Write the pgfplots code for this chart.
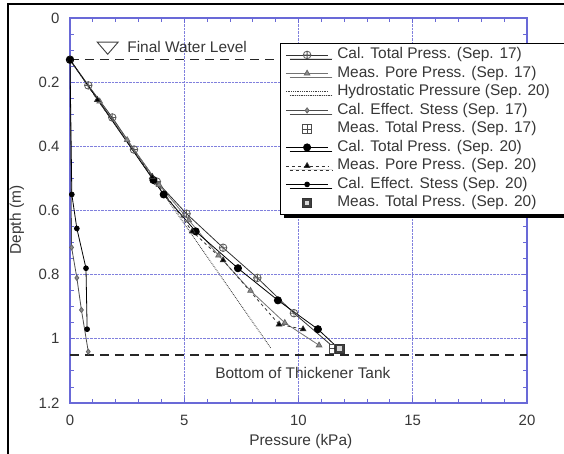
\documentclass[border=0pt]{standalone}
\usepackage{fontspec}
\setmainfont{Liberation Sans}
\usepackage{pgfplots}
\pgfplotsset{compat=1.18}
\usetikzlibrary{plotmarks,shadows}

\definecolor{gridblue}{RGB}{105,105,215}
\definecolor{txt}{RGB}{55,55,55}

% gap between a legend sample and its text
\newcommand{\lgap}{\hspace*{7bp}}

% square with a cross inside
\pgfdeclareplotmark{boxplus}{%
  \pgfpathrectangle{\pgfpoint{-\pgfplotmarksize}{-\pgfplotmarksize}}{\pgfpoint{2\pgfplotmarksize}{2\pgfplotmarksize}}%
  \pgfusepathqfillstroke
  \pgfpathmoveto{\pgfpoint{-\pgfplotmarksize}{0pt}}\pgfpathlineto{\pgfpoint{\pgfplotmarksize}{0pt}}%
  \pgfpathmoveto{\pgfpoint{0pt}{-\pgfplotmarksize}}\pgfpathlineto{\pgfpoint{0pt}{\pgfplotmarksize}}%
  \pgfusepathqstroke}
% dark square with a light core
\pgfdeclareplotmark{boxdot}{%
  \pgfpathrectangle{\pgfpoint{-\pgfplotmarksize}{-\pgfplotmarksize}}{\pgfpoint{2\pgfplotmarksize}{2\pgfplotmarksize}}%
  \pgfusepathqfillstroke
  \pgfsetfillcolor{white!85!black}%
  \pgfpathrectangle{\pgfpoint{-0.5\pgfplotmarksize}{-0.5\pgfplotmarksize}}{\pgfpoint{\pgfplotmarksize}{\pgfplotmarksize}}%
  \pgfusepathqfill}

\pgfplotstableread{
p d
0    0.13
0.8  0.21
1.85 0.31
2.8  0.41
3.8  0.51
5.1  0.61
6.7  0.716
8.2  0.81
9.8  0.92
11.6 1.03
}\caltotA
\pgfplotstableread{
p d
0    0.13
1.3  0.26
2.5  0.38
3.9  0.52
5.2  0.63
6.5  0.74
7.9  0.85
9.4  0.95
10.9 1.02
}\measporeA
\pgfplotstableread{
p d
0   0.13
8.8 1.03
}\hydro
\pgfplotstableread{
p d
0    0.13
0.07 0.715
0.3  0.81
0.5  0.91
0.8  1.04
}\caleffA
\pgfplotstableread{
p d
11.55 1.03
}\meastotA
\pgfplotstableread{
p d
0     0.13
3.65  0.505
4.1   0.55
5.5   0.665
7.35  0.78
9.1   0.88
10.85 0.97
11.75 1.03
}\caltotB
\pgfplotstableread{
p d
0    0.13
1.2  0.255
3.6  0.495
5.35 0.665
6.7  0.755
9.15 0.955
10.2 0.97
}\measporeB
\pgfplotstableread{
p d
0    0.13
0.08 0.55
0.3  0.656
0.7  0.78
0.75 0.97
}\caleffB
\pgfplotstableread{
p d
11.8 1.03
}\meastotB

\begin{document}
\begin{tikzpicture}[font=\fontsize{15.5}{18}\selectfont, text=txt]
\useasboundingbox (-70bp,-51bp) rectangle (494bp,403bp);
\draw[black, line width=1.2bp] (-62bp,-60bp) -- (-62bp,399bp) -- (510bp,399bp);
\begin{axis}[
  at={(0,0)}, anchor=south west,
  scale only axis, width=457bp, height=385bp,
  xmin=0, xmax=20, ymin=0, ymax=1.2, y dir=reverse,
  xtick={0,5,10,15,20}, ytick={0,0.2,0.4,0.6,0.8,1,1.2},
  minor x tick num=4, minor y tick num=3,
  grid=major, major grid style={gridblue!85, densely dotted, line width=0.9bp},
  axis line style={gridblue, line width=1.3bp},
  tick style={gridblue, line width=0.9bp},
  tick align=inside, major tick length=5bp, minor tick length=4bp,
  /pgf/number format/assume math mode=true,
  ticklabel style={font=\fontsize{15}{17}\selectfont, text=txt},
  xticklabel style={yshift=-9bp},
  yticklabel style={xshift=-7bp},
  xlabel={Pressure (kPa)}, ylabel={Depth (m)},
  xlabel style={at={(axis description cs:0.505,0)}, anchor=center, yshift=-38bp},
  ylabel style={at={(axis description cs:-0.116,0.475)}, anchor=center},
  legend style={at={(0.4595,0.935)}, anchor=north west, draw=black, line width=0.8bp,
    fill=white, drop shadow={shadow xshift=4bp, shadow yshift=-4bp, fill=black, opacity=1},
    font=\fontsize{15.5}{18}\selectfont, text=txt, inner xsep=5bp, inner ysep=3bp,
    row sep=1.5bp,
    nodes={inner sep=1.5bp, text height=11bp, text depth=3bp}},
  legend cell align=left,
  legend image code/.code={%
    \draw[mark repeat=2,mark phase=2,#1] plot coordinates {(0cm,0cm) (0.75cm,0cm) (1.5cm,0cm)};},
  every axis plot/.append style={line width=0.8bp},
]
% water level and tank bottom
\addplot[forget plot, black!85, line width=1.3bp, dash pattern=on 9bp off 6bp] coordinates {(0,0.13) (20,0.13)};
\addplot[forget plot, black!85, line width=1.3bp, dash pattern=on 9bp off 6bp] coordinates {(0,1.05) (20,1.05)};

\addplot[black!80, mark=oplus, mark size=3.8bp, mark options={fill=white, draw=black!65, solid}] table[x=p,y=d] {\caltotA};
\addlegendentry{\lgap Cal. Total Press. (Sep. 17)}
\addplot[black!55, mark=triangle*, mark size=3.2bp, mark options={fill=black!45, draw=black!60, solid}] table[x=p,y=d] {\measporeA};
\addlegendentry{\lgap Meas. Pore Press. (Sep. 17)}
\addplot[black!75, densely dotted, line width=0.9bp] table[x=p,y=d] {\hydro};
\addlegendentry{\lgap Hydrostatic Pressure (Sep. 20)\hspace*{8bp}}
\addplot[black!70, mark=diamond*, mark size=2.6bp, mark options={fill=black!45, draw=black!60, solid}] table[x=p,y=d] {\caleffA};
\addlegendentry{\lgap Cal. Effect. Stess (Sep. 17)}
\addplot[only marks, mark=boxplus, mark size=4.5bp, mark options={fill=white, draw=black!70, line width=0.8bp}] table[x=p,y=d] {\meastotA};
\addlegendentry{\lgap Meas. Total Press. (Sep. 17)}
\addplot[black, mark=*, mark size=3.6bp, mark options={fill=black, solid}] table[x=p,y=d] {\caltotB};
\addlegendentry{\lgap Cal. Total Press. (Sep. 20)}
\addplot[black!80, dashed, mark=triangle*, mark size=3.2bp, mark options={fill=black, solid}] table[x=p,y=d] {\measporeB};
\addlegendentry{\lgap Meas. Pore Press. (Sep. 20)}
\addplot[black, mark=*, mark size=2.4bp, mark options={fill=black, solid}] table[x=p,y=d] {\caleffB};
\addlegendentry{\lgap Cal. Effect. Stess (Sep. 20)}
\addplot[only marks, mark=boxdot, mark size=4.5bp, mark options={fill=black!75, draw=black!80, line width=0.8bp}] table[x=p,y=d] {\meastotB};
\addlegendentry{\lgap Meas. Total Press. (Sep. 20)}

% labels for the two reference levels
\draw[black!75, line width=0.9bp] (axis cs:1.19,0.075) -- (axis cs:2.11,0.075) -- (axis cs:1.65,0.113) -- cycle;
\node[anchor=west, inner sep=0pt] at (axis cs:2.5,0.09) {Final Water Level};
\node[anchor=west, inner sep=0pt] at (axis cs:6.35,1.106) {Bottom of Thickener Tank};
\end{axis}
\end{tikzpicture}
\end{document}
